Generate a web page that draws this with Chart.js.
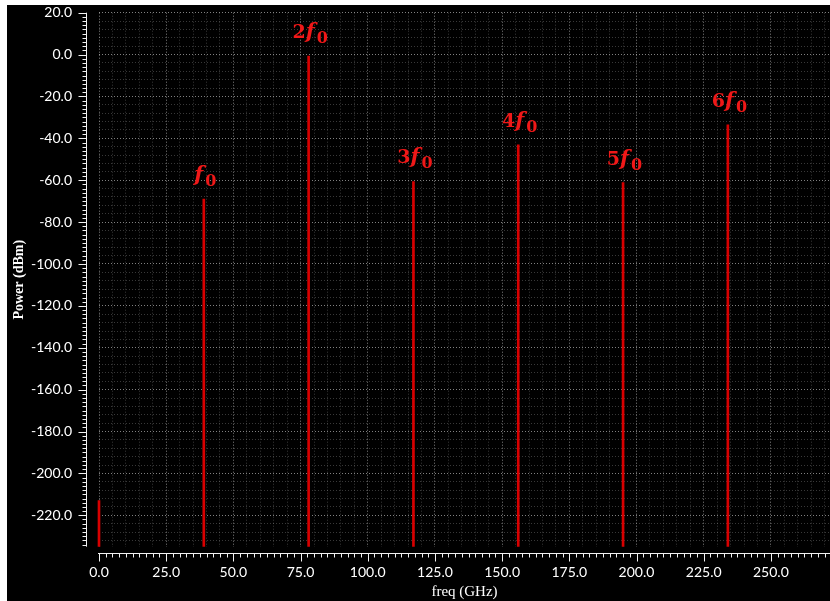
<!DOCTYPE html>
<html>
<head>
<meta charset="utf-8">
<script src="https://cdn.jsdelivr.net/npm/chart.js@4.4.1/dist/chart.umd.min.js"></script>
<style>
  html, body { margin: 0; padding: 0; background: #ffffff; }
  #wrap { position: absolute; left: 7px; top: 5px; width: 823px; height: 596px; background: #000000; }
</style>
</head>
<body>
<div id="wrap"><canvas id="spectrum"></canvas></div>
<script>
// Output spectrum: fundamental f0 = 39 GHz and its harmonics
const harmonicFreqGHz  = [0, 39, 78, 117, 156, 195, 234];
const harmonicPowerDbm = [-213, -69, -0.7, -60.6, -43.1, -61.1, -33.6];
const harmonicPrefix   = ['', '', '2', '3', '4', '5', '6'];
const harmonicNamed    = [false, true, true, true, true, true, true];

// Axis ranges and tick spacing
const powerMax = 20;
const powerFloor = -235;
const freqMin = 0;
const freqMax = 272;
const powerLabelStep = 20;
const powerGridStep = 4;
const powerMinorTickStep = 2;
const freqLabelStep = 25;
const freqGridStep = 5;
const freqMinorTickStep = 2.5;

const SPIKE_RED = '#d80000';
const LABEL_RED = '#f01818';
const GRID_MINOR = 'rgba(255,255,255,0.22)';
const GRID_MAJOR = 'rgba(255,255,255,0.5)';
const AXIS_WHITE = '#f2f2f2';

// keep the plot area fixed: no automatic room for overflowing labels
function noLabelPadding(scale) {
  scale.paddingTop = 0;
  scale.paddingBottom = 0;
  scale.paddingLeft = 0;
  scale.paddingRight = 0;
}

// Offset axis lines with minor/major tick combs
const offsetAxes = {
  id: 'offsetAxes',
  afterDraw(chart) {
    const { ctx, chartArea, scales: { x, y } } = chart;
    ctx.save();
    ctx.strokeStyle = AXIS_WHITE;
    ctx.lineWidth = 1;

    // vertical axis
    const ax = Math.round(chartArea.left - 13) + 0.5;
    const yTop = y.getPixelForValue(powerMax);
    const yBot = y.getPixelForValue(powerFloor);
    ctx.beginPath();
    ctx.moveTo(ax, yTop);
    ctx.lineTo(ax, yBot);
    for (let v = powerMax; v >= powerFloor; v -= powerMinorTickStep) {
      const py = Math.round(y.getPixelForValue(v)) + 0.5;
      const len = (v % powerLabelStep === 0) ? 8 : 4;
      ctx.moveTo(ax, py);
      ctx.lineTo(ax - len, py);
    }
    ctx.stroke();

    // horizontal axis
    const ay = Math.round(chartArea.bottom + 6) + 0.5;
    ctx.beginPath();
    ctx.moveTo(chartArea.left - 1, ay);
    ctx.lineTo(chartArea.right, ay);
    for (let v = freqMin; v <= freqMax; v += freqMinorTickStep) {
      const px = Math.round(x.getPixelForValue(v)) + 0.5;
      const len = (v % freqLabelStep === 0) ? 8 : 4;
      ctx.moveTo(px, ay);
      ctx.lineTo(px, ay + len);
    }
    ctx.stroke();
    ctx.restore();
  }
};

// n·f0 annotations above each harmonic
const harmonicLabels = {
  id: 'harmonicLabels',
  afterDatasetsDraw(chart) {
    const { ctx, scales: { x, y } } = chart;
    ctx.save();
    ctx.fillStyle = LABEL_RED;
    ctx.textBaseline = 'alphabetic';
    ctx.textAlign = 'left';
    harmonicFreqGHz.forEach((f, i) => {
      if (!harmonicNamed[i]) return;
      const px = x.getPixelForValue(f);
      const py = y.getPixelForValue(harmonicPowerDbm[i]);
      const parts = [
        { t: harmonicPrefix[i], font: 'bold 19px "DejaVu Serif"', dy: 0, gap: 0 },
        { t: 'f', font: 'italic bold 21px "DejaVu Serif"', dy: 0, gap: 2 },
        { t: '0', font: 'bold 16px "DejaVu Serif"', dy: 5, gap: 0 }
      ];
      let w = 0;
      parts.forEach(p => { ctx.font = p.font; p.w = ctx.measureText(p.t).width + p.gap; w += p.w; });
      let cx = px + 1.5 - w / 2;
      const base = py - 18;
      parts.forEach(p => { ctx.font = p.font; ctx.fillText(p.t, cx, base + p.dy); cx += p.w; });
    });
    ctx.restore();
  }
};

new Chart(document.getElementById('spectrum'), {
  type: 'bar',
  data: {
    datasets: [{
      label: 'Power',
      data: harmonicFreqGHz.map((f, i) => ({ x: f, y: [powerFloor, harmonicPowerDbm[i]] })),
      backgroundColor: SPIKE_RED,
      borderWidth: 0,
      barThickness: 2,
      grouped: false,
      clip: { left: 3, top: 0, right: 0, bottom: 0 }
    }]
  },
  options: {
    responsive: true,
    maintainAspectRatio: false,
    animation: false,
    layout: { padding: { top: 7.7, right: 0, bottom: 0, left: 0 } },
    plugins: { legend: { display: false }, tooltip: { enabled: false } },
    scales: {
      x: {
        type: 'linear',
        min: freqMin,
        max: freqMax,
        offset: false,
        afterFit(scale) { scale.height = 54.3; noLabelPadding(scale); },
        grid: {
          drawTicks: false,
          offset: false,
          color: c => (c.tick && c.tick.value % freqLabelStep === 0) ? GRID_MAJOR : GRID_MINOR,
          lineWidth: 1
        },
        border: { display: false, dash: [1, 2] },
        ticks: {
          stepSize: freqGridStep,
          autoSkip: false,
          maxRotation: 0,
          includeBounds: false,
          padding: 17,
          color: '#ffffff',
          font: { family: 'Lato', size: 14 },
          callback: v => (v % freqLabelStep === 0) ? v.toFixed(1) : ''
        },
        title: {
          display: true,
          text: 'freq (GHz)',
          color: '#ffffff',
          font: { family: '"Liberation Serif"', size: 15 },
          padding: { top: 0, bottom: 0 }
        }
      },
      y: {
        type: 'linear',
        min: powerFloor,
        max: powerMax,
        afterFit(scale) { scale.width = 92; noLabelPadding(scale); },
        grid: {
          drawTicks: false,
          color: c => (c.tick && c.tick.value % powerLabelStep === 0) ? GRID_MAJOR : GRID_MINOR,
          lineWidth: 1
        },
        border: { display: false, dash: [1, 2] },
        ticks: {
          stepSize: powerGridStep,
          autoSkip: false,
          includeBounds: false,
          padding: 27,
          color: '#ffffff',
          font: { family: 'Lato', size: 14 },
          callback: v => (v % powerLabelStep === 0) ? v.toFixed(1) : ''
        },
        title: {
          display: true,
          text: 'Power (dBm)',
          color: '#ffffff',
          font: { family: '"Liberation Serif"', size: 14, weight: 'bold' },
          padding: { top: 4, bottom: 0 }
        }
      }
    }
  },
  plugins: [offsetAxes, harmonicLabels]
});
</script>
</body>
</html>
